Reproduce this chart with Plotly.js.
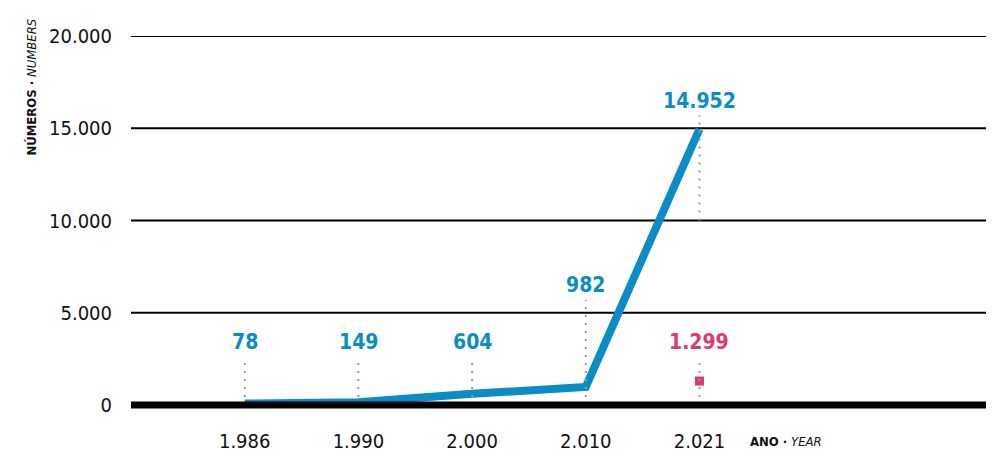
<!DOCTYPE html>
<html>
<head>
<meta charset="utf-8">
<script src="https://cdn.plot.ly/plotly-3.0.1.min.js"></script>
<style>
  html, body { margin: 0; padding: 0; background: #fff; }
  #chart { width: 992px; height: 454px; }
</style>
</head>
<body>
<div id="chart"></div>
<script>
// Years shown on the horizontal axis
const years = ['1.986', '1.990', '2.000', '2.010', '2.021'];
// Main series (blue line)
const totals = [78, 149, 604, 982, 14952];
const totalLabels = ['78', '149', '604', '982', '14.952'];
// Second series, only for the last year (pink marker)
const otherYears = ['2.021'];
const otherValues = [1299];
const otherLabels = ['1.299'];
// Y axis ticks
const yTicks = [0, 5000, 10000, 15000, 20000];
const yTickText = ['0', '5.000', '10.000', '15.000', '20.000'];

const BLUE = '#0a8cc6';
const PINK = '#dd3a6c';
const GREY = '#9a9a9a';
const FONT = '"DejaVu Sans Condensed", "Liberation Sans Narrow", sans-serif';

// Category index of a year (annotations/shapes need the position, not the
// number-like category string)
const idx = yr => years.indexOf(yr);

// Height (in axis units) where each value label sits, and where its leader stops
const labelY = [3400, 3400, 3400, 6500, 16500];
const leaderTop = [2600, 2600, 2600, 5700, 15700];
const leaderBottom = [0, 0, 0, 0, 10000];
const otherLabelY = [3400];
const otherLeaderTop = [2550];

const DOTS = '2px,6px';

const shapes = [];
// Horizontal rules at every tick above zero
yTicks.filter(v => v > 0).forEach(v => {
  shapes.push({
    type: 'line', xref: 'paper', yref: 'y', layer: 'below',
    x0: 0, x1: 1, y0: v, y1: v,
    line: { color: '#000', width: 2 }
  });
});
years.forEach((yr, i) => {
  shapes.push({
    type: 'line', xref: 'x', yref: 'y', layer: 'above',
    x0: i, x1: i, y0: leaderBottom[i], y1: leaderTop[i],
    line: { color: GREY, width: 2, dash: DOTS }
  });
});
otherYears.forEach((yr, i) => {
  shapes.push({
    type: 'line', xref: 'x', yref: 'y', layer: 'above',
    x0: idx(yr), x1: idx(yr), y0: 0, y1: otherLeaderTop[i],
    line: { color: GREY, width: 2, dash: DOTS }
  });
});
// Heavy baseline at zero
shapes.push({
  type: 'line', xref: 'paper', yref: 'y', layer: 'above',
  x0: 0, x1: 1, y0: 0, y1: 0,
  line: { color: '#000', width: 7 }
});

const annotations = [];
years.forEach((yr, i) => {
  annotations.push({
    x: i, y: labelY[i], xref: 'x', yref: 'y',
    text: '<b>' + totalLabels[i] + '</b>', showarrow: false, yanchor: 'middle',
    font: { family: FONT, size: 21, color: BLUE }
  });
});
otherYears.forEach((yr, i) => {
  annotations.push({
    x: idx(yr), y: otherLabelY[i], xref: 'x', yref: 'y',
    text: '<b>' + otherLabels[i] + '</b>', showarrow: false, yanchor: 'middle',
    font: { family: FONT, size: 21, color: PINK }
  });
});
// Axis captions
annotations.push({
  x: -0.1158, y: 0.865, xref: 'paper', yref: 'paper', yanchor: 'middle', xanchor: 'center',
  text: '<b>NÚMEROS ·</b> <i>NUMBERS</i>', textangle: -90, showarrow: false,
  font: { family: FONT, size: 13, color: '#111' }
});
annotations.push({
  x: 0.7216, y: -0.08, xref: 'paper', yref: 'paper', xanchor: 'left', yanchor: 'middle',
  text: '<b>ANO ·</b> <i>YEAR</i>', showarrow: false,
  font: { family: FONT, size: 13, color: '#111' }
});

const traces = [
  {
    x: years, y: totals, type: 'scatter', mode: 'lines',
    line: { color: BLUE, width: 8 }, hoverinfo: 'x+y'
  },
  {
    x: otherYears, y: otherValues, type: 'scatter', mode: 'markers',
    marker: { color: PINK, symbol: 'square', size: 9 }, cliponaxis: false
  }
];

const layout = {
  width: 992, height: 454,
  margin: { l: 131, r: 6, t: 36, b: 43 },
  paper_bgcolor: '#fff', plot_bgcolor: '#fff',
  showlegend: false,
  font: { family: FONT, color: '#111' },
  xaxis: {
    type: 'category', categoryorder: 'array', categoryarray: years,
    range: [-1, 6.52], showgrid: false, zeroline: false, showline: false,
    ticks: '', ticklabelstandoff: 16,
    tickfont: { family: FONT, size: 20, color: '#111' }
  },
  yaxis: {
    range: [-325, 20000], tickvals: yTicks, ticktext: yTickText,
    showgrid: false, zeroline: false, showline: false, ticks: '', ticklabelstandoff: 18,
    tickfont: { family: FONT, size: 20, color: '#111' }
  },
  shapes: shapes,
  annotations: annotations
};

Plotly.newPlot('chart', traces, layout, { displayModeBar: false, staticPlot: true });
</script>
</body>
</html>
